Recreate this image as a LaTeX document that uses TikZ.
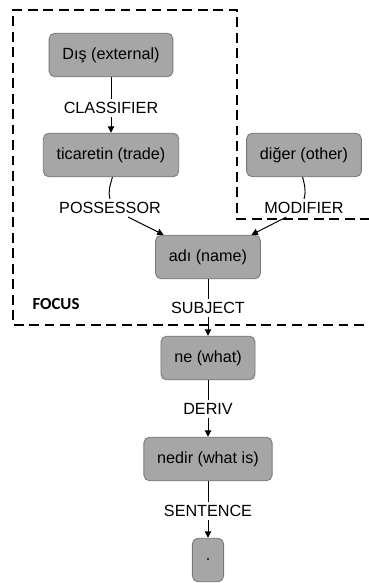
\documentclass[tikz,border=0pt]{standalone}
\usepackage{fontspec}
\setmainfont{Liberation Sans}
\newfontfamily\focusfont{Carlito}
\usetikzlibrary{arrows.meta,positioning}

\definecolor{wordfill}{HTML}{A6A6A6}
\definecolor{worddraw}{HTML}{787878}

\tikzset{
  word/.style={draw=worddraw, fill=wordfill, rounded corners=4pt,
    minimum height=31pt, inner xsep=9.5pt, line width=0.6pt,
    font=\fontsize{11.5}{13}\selectfont},
  rel/.style={inner sep=2pt, font=\fontsize{11.5}{13}\selectfont},
  dep/.style={-{Triangle[length=4.5pt,width=4.5pt]}},
  region/.style={line width=1.4pt, dash pattern=on 7pt off 4pt}
}

\begin{document}
\begin{tikzpicture}[x=0.025cm,y=-0.025cm,line width=0.7pt]
  \useasboundingbox (0,0) rectangle (368,583);

  % focus region
  \draw[region] (370,219) -- (237,219) -- (237,10) -- (13,10)
    -- (13,325) -- (370,325);
  \node[font=\focusfont\bfseries\fontsize{12}{14}\selectfont] (focus) at (56,304) {FOCUS};

  % words
  \node[word] (dis)   at (111,55)  {Dış (external)};
  \node[word] (tic)   at (111,155) {ticaretin (trade)};
  \node[word] (other) at (304,155) {diğer (other)};
  \node[word] (adi)   at (208,257) {adı (name)};
  \node[word] (ne)    at (208,358) {ne (what)};
  \node[word] (nedir) at (208,459) {nedir (what is)};
  \node[word] (dot)   at (208,560) {.};

  % relation labels
  \node[rel] (classifier) at (111,108) {CLASSIFIER};
  \node[rel] (possessor)  at (110,208) {POSSESSOR};
  \node[rel] (modifier)   at (304,208) {MODIFIER};
  \node[rel] (subject)    at (208,308) {SUBJECT};
  \node[rel] (deriv)      at (208,409) {DERIV};
  \node[rel] (sentence)   at (208,511) {SENTENCE};

  % dependencies
  \draw (dis) -- (classifier);
  \draw[dep] (classifier) -- (tic);
  \draw ([xshift=1pt]tic.south) to[out=-105,in=105] (possessor.north);
  \draw[dep] (possessor) -- (adi);
  \draw ([xshift=-1pt]other.south) to[out=-75,in=75] (modifier.north);
  \draw[dep] (modifier) -- (adi);
  \draw (adi) -- (subject);
  \draw[dep] (subject) -- (ne);
  \draw (ne) -- (deriv);
  \draw[dep] (deriv) -- (nedir);
  \draw (nedir) -- (sentence);
  \draw[dep] (sentence) -- (dot);
\end{tikzpicture}
\end{document}
